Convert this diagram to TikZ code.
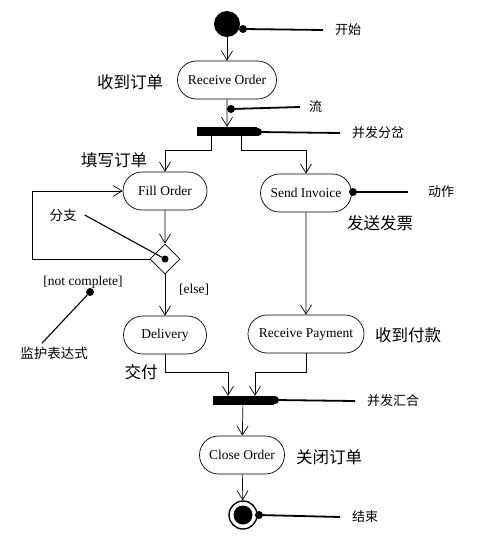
\documentclass[tikz,border=0pt]{standalone}
\usepackage{fontspec}
\setmainfont{Liberation Serif}
\newfontfamily\cjk{Noto Sans CJK SC}
\usetikzlibrary{arrows.meta,shapes.misc,shapes.geometric}

\begin{document}
\begin{tikzpicture}[x=1pt,y=-1pt,
    action/.style={draw,rounded rectangle,inner sep=0pt,minimum height=38pt,
      line width=0.7pt,font=\fontsize{13.5}{14}\selectfont},
    bar/.style={draw,fill,inner sep=0pt,minimum width=59pt,minimum height=8pt},
    flow/.style={-{Straight Barb[length=9pt,width=11pt]},line width=0.7pt},
    dot/.style={circle,fill,inner sep=0pt,minimum size=8pt},
    note/.style={line width=1.8pt},
    notetext/.style={anchor=west,inner xsep=12pt,font=\cjk\fontsize{13}{14}\selectfont},
    cjktext/.style={font=\cjk\fontsize{13.5}{14}\selectfont},
    bigtext/.style={font=\cjk\fontsize{16.5}{18}\selectfont},
    guard/.style={font=\fontsize{13.5}{14}\selectfont}]
  \useasboundingbox (0,0) rectangle (480,546);

  % nodes
  \node[circle,fill,inner sep=0pt,minimum size=26pt] (start) at (227,24) {};
  \node[action,minimum width=99pt] (recv) at (227,80) {Receive Order};
  \node[bar] (fork) at (227,131) {};
  \node[action,minimum width=84pt] (fill) at (165,191) {Fill Order};
  \node[action,minimum width=91pt] (send) at (306,193) {Send Invoice};
  \node[diamond,draw,inner sep=0pt,minimum size=30pt,line width=0.8pt] (dec) at (165,259) {};
  \node[dot,minimum size=7pt] (decdot) at (dec) {};
  \node[action,minimum width=83pt] (deliv) at (165,335) {Delivery};
  \node[action,minimum width=116pt] (pay) at (306,334) {Receive Payment};
  \node[bar,minimum width=60pt] (join) at (243,400) {};
  \node[action,minimum width=85pt] (close) at (242,455) {Close Order};
  \node[circle,draw,line width=1.4pt,inner sep=0pt,minimum size=28pt] (end) at (243,515) {};
  \node[circle,fill,inner sep=0pt,minimum size=19pt] (endin) at (end) {};
  \coordinate (loop) at (32,259);

  % flows
  \draw[flow] (start) -- (recv);
  \draw[flow] (recv) -- (fork);
  \draw[flow] ([xshift=-16pt]fork.south) -- ++(0,15) -| (fill.north);
  \draw[flow] ([xshift=14pt]fork.south) -- ++(0,15) -| (send.north);
  \draw[flow] (fill) -- (dec);
  \draw[flow] (dec.west) -- (loop) |- (fill.west);
  \draw[flow] (dec) -- (deliv);
  \draw[flow] (send) -- (pay);
  \draw[flow] (deliv.south) -- ++(0,18) -| ([xshift=-15pt]join.north);
  \draw[flow] (pay.south) -- ++(0,19) -| ([xshift=12pt]join.north);
  \draw[flow] (join) -- (close);
  \draw[flow] (close) -- (end);

  % notes
  \node[dot] (dStart) at (243,29) {};
  \node[notetext] (lStart) at (323,30) {开始};
  \node[dot] (dFlow) at (231,109) {};
  \node[notetext,inner xsep=9pt] (lFlow) at (300,107) {流};
  \node[dot] (dFork) at (258,132) {};
  \node[notetext] (lFork) at (340,133) {并发分岔};
  \node[dot] (dSend) at (353,192) {};
  \node[notetext,inner xsep=20pt] (lSend) at (408,192) {动作};
  \node[dot] (dJoin) at (275,400) {};
  \node[notetext] (lJoin) at (355,401) {并发汇合};
  \node[dot] (dEnd) at (259,515) {};
  \node[notetext] (lEnd) at (340,517) {结束};
  \foreach \p in {Start,Flow,Fork,Send,Join,End}{
    \draw[note] (d\p) -- (l\p.west);
  }

  \node[cjktext,inner xsep=8pt] (lBranch) at (63,215) {分支};
  \draw[line width=1.1pt] (lBranch.east) -- (decdot);
  \node[guard] (gNot) at (83,282) {[not complete]};
  \node[guard] (gElse) at (194,290) {[else]};
  \node[dot] (dGuard) at (90,292) {};
  \node[cjktext] (lGuard) at (54,353) {监护表达式};
  \draw[line width=1.1pt] (dGuard) -- ([xshift=-12pt]lGuard.north);

  % labels
  \node[bigtext] (tRecv) at (130,82) {收到订单};
  \node[bigtext] (tFill) at (114,160) {填写订单};
  \node[bigtext] (tSend) at (380,223) {发送发票};
  \node[bigtext] (tPay) at (408,335) {收到付款};
  \node[bigtext] (tDeliv) at (141,372) {交付};
  \node[bigtext] (tClose) at (329,457) {关闭订单};
\end{tikzpicture}
\end{document}
